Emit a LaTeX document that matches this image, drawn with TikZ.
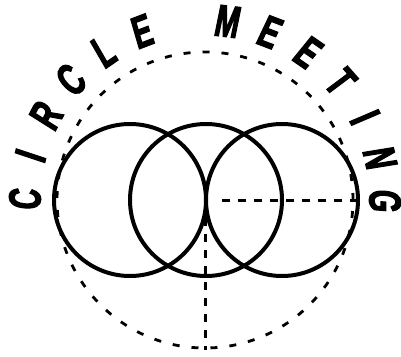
\documentclass[tikz,border=0pt]{standalone}
\usepackage{fontspec}
\usetikzlibrary{calc}
\newfontfamily\lettfont{Liberation Sans Bold}[FakeStretch=0.64,FakeBold=2.5,FakeSlant=0.08]
\begin{document}
\begin{tikzpicture}[x=1pt,y=1pt,
  ring/.style={line width=4pt},
  outerdash/.style={line width=2.8pt,dash pattern=on 7pt off 12pt},
  axisdash/.style={line width=3pt,dash pattern=on 8pt off 8pt},
  letter/.style={inner sep=0pt,font=\lettfont\fontsize{45}{45}\selectfont}]
\useasboundingbox (0,0) rectangle (401,-356);
\coordinate (O) at (205,-200);
\draw[outerdash] (O) circle[radius=148];
\draw[ring] (130,-200) circle[radius=76];
\draw[ring] (206,-200) circle[radius=76];
\draw[ring] (282,-200) circle[radius=76];
\coordinate (hstart) at (222,-200);
\coordinate (hend) at (358,-200);
\coordinate (vstart) at (205.5,-202);
\coordinate (vend) at (205.5,-350);
\draw[axisdash] (hstart) -- (hend);
\draw[axisdash] (vstart) -- (vend);
\foreach \ch/\ang/\nm in {C/180/l1,I/166.15/l2,R/152.3/l3,C/138.5/l4,L/124.6/l5,E/110.8/l6,M/83.1/l7,E/69.2/l8,E/55.4/l9,T/41.5/l10,I/27.7/l11,N/13.8/l12,G/0/l13}
  \node[letter,rotate=\ang-90] (\nm) at ($(O)+(\ang:180)$) {\ch};
\end{tikzpicture}
\end{document}
